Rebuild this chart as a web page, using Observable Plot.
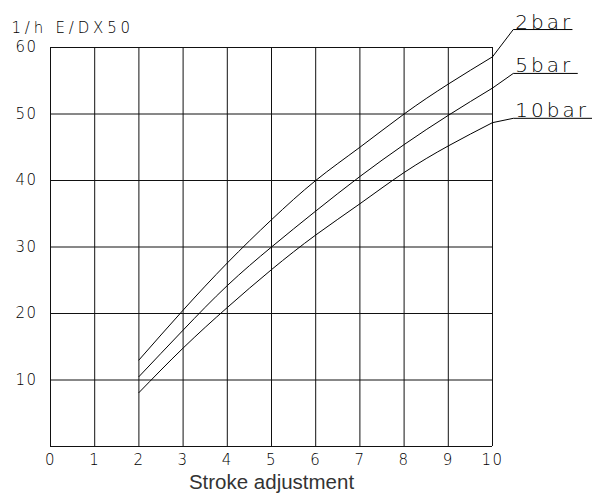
<!DOCTYPE html>
<html>
<head>
<meta charset="utf-8">
<script src="https://cdn.jsdelivr.net/npm/d3@7"></script>
<script src="https://cdn.jsdelivr.net/npm/@observablehq/plot@0.6"></script>
<style>
  body { margin: 0; background: #fff; }
</style>
</head>
<body>
<div id="chart"></div>
<script>
// ---- data ----
const strokes = [2, 3, 4, 5, 6, 7, 8, 9, 10];
const bar2  = [13.0, 20.5, 27.6, 34.1, 40.0, 45.0, 50.0, 54.5, 58.6];
const bar5  = [10.5, 17.5, 24.2, 30.0, 35.4, 40.6, 45.4, 49.8, 53.9];
const bar10 = [8.1, 14.8, 20.9, 26.6, 31.8, 36.5, 41.2, 45.2, 48.7];
const seriesNames = ["2bar", "5bar", "10bar"];
const xTicks = [0, 1, 2, 3, 4, 5, 6, 7, 8, 9, 10];
const yGrid = [0, 10, 20, 30, 40, 50, 60];
const yLabels = [10, 20, 30, 40, 50, 60];
const titleText = "1/h E/DX50";
const xLabelText = "Stroke adjustment";
// label annotation anchors (data units): knee of leader and end of underline
const labelKneeX = [10.47, 10.47, 10.47];
const labelKneeY = [62.7, 56.1, 49.35];
const labelEndX = [11.8, 11.92, 12.3];

// ---- build tables ----
const seriesValues = [bar2, bar5, bar10];
const rows = [];
seriesNames.forEach((s, i) => strokes.forEach((x, j) => rows.push({series: s, x, y: seriesValues[i][j]})));
const leaders = [];
seriesNames.forEach((s, i) => {
  const v = seriesValues[i];
  leaders.push({series: s, x: strokes[strokes.length - 1], y: v[v.length - 1]});
  leaders.push({series: s, x: labelKneeX[i], y: labelKneeY[i]});
  leaders.push({series: s, x: labelEndX[i], y: labelKneeY[i]});
});
const labels = seriesNames.map((s, i) => ({series: s, x: labelKneeX[i], y: labelKneeY[i]}));

const cad = "'DejaVu Sans', sans-serif";

const chart = Plot.plot({
  width: 592,
  height: 497,
  marginLeft: 50,
  marginRight: 100,
  marginTop: 47,
  marginBottom: 51,
  style: {background: "#fff", color: "#000", overflow: "visible"},
  x: {domain: [0, 10]},
  y: {domain: [0, 60]},
  marks: [
    Plot.ruleX(xTicks, {stroke: "#111", strokeWidth: 1}),
    Plot.ruleY(yGrid, {stroke: "#111", strokeWidth: 1}),
    Plot.line(rows, {x: "x", y: "y", z: "series", curve: "natural", stroke: "#000", strokeWidth: 1}),
    Plot.line(leaders, {x: "x", y: "y", z: "series", stroke: "#000", strokeWidth: 1, clip: false}),
    Plot.text(labels, {x: "x", y: "y", text: "series", textAnchor: "start", lineAnchor: "bottom", dx: 2, dy: -1,
      fontSize: 20, fontFamily: cad, fontWeight: 200, fill: "#000", clip: false}),
    Plot.axisX({ticks: xTicks, tickSize: 0, tickPadding: 8, fontSize: 15, label: null, tickFormat: d => String(d)}),
    Plot.axisY({ticks: yLabels, tickSize: 0, tickPadding: 13, fontSize: 15, label: null, tickFormat: d => String(d)}),
    Plot.text([titleText], {frameAnchor: "top-left", text: d => d, textAnchor: "start", dx: -39, dy: -25,
      fontSize: 15, fontFamily: cad, fontWeight: 200, fill: "#000"}),
    Plot.text([xLabelText], {frameAnchor: "bottom", text: d => d, textAnchor: "middle", dy: 42,
      fontSize: 20.5, fontFamily: "'Liberation Sans', Arial, sans-serif", fill: "#333"})
  ]
});

// text styling that Plot's text options do not cover
d3.select(chart).selectAll("text").each(function() {
  const t = this.textContent;
  const s = this.style;
  if (seriesNames.includes(t)) {
    s.letterSpacing = "3px";
  } else if (t === titleText) {
    s.letterSpacing = "3.8px";
  } else if (/^\d+$/.test(t)) {
    s.fontSize = "15px";
    s.fontFamily = cad;
    s.fontWeight = "200";
    s.fill = "#000";
    s.letterSpacing = "1.5px";
  }
});
document.getElementById("chart").appendChild(chart);
</script>
</body>
</html>
